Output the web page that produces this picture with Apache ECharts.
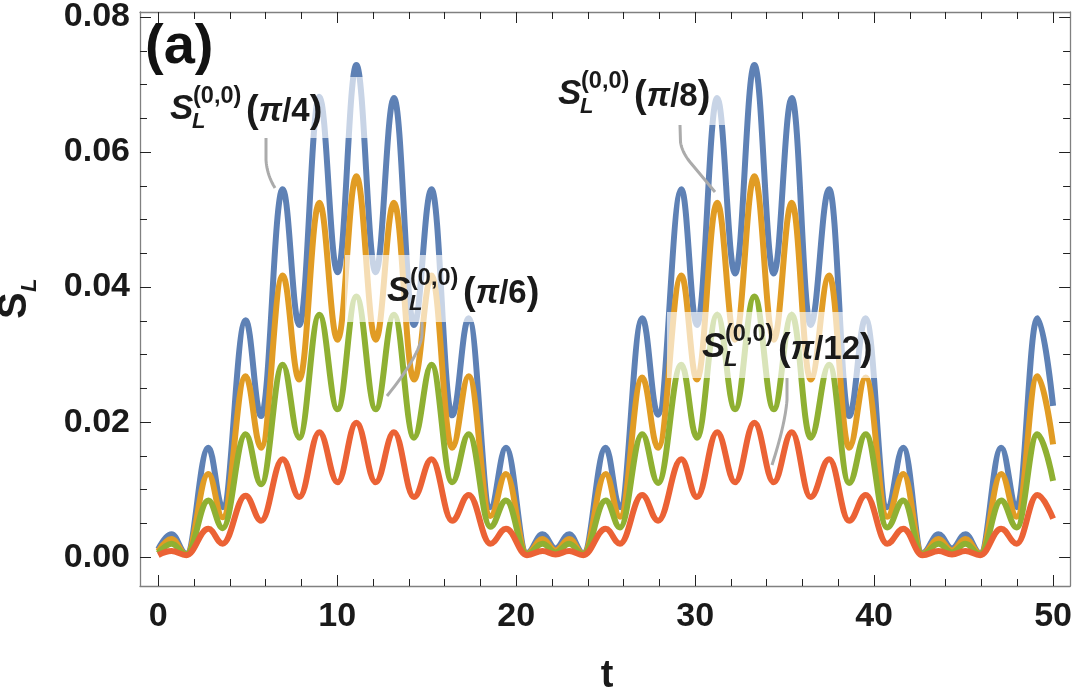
<!DOCTYPE html>
<html><head><meta charset="utf-8">
<script src="https://cdn.jsdelivr.net/npm/echarts@6/dist/echarts.min.js"></script>
<style>html,body{margin:0;padding:0;background:#fff}#c{width:1075px;height:692px}</style>
</head><body><div id="c"></div>
<script>
// extrema (peaks / troughs)
const tKnots = [0, 0.74, 1.57, 2.8, 3.6, 4.88, 5.75, 6.95, 7.88, 9.0, 10.02, 11.07, 12.15, 13.17, 14.29, 15.27, 16.42, 17.35, 18.56, 19.43, 20.6, 21.47, 22.2, 22.96, 23.75, 25.0, 25.8, 27.04, 27.93, 29.23, 30.1, 31.23, 32.23, 33.31, 34.39, 35.4, 36.45, 37.49, 38.6, 39.53, 40.73, 41.63, 42.7, 43.6, 44.35, 45.1, 45.93, 47.1, 47.97, 49.12, 50];
const sBlue = [0.0012, 0.0034, 0.0005, 0.0162, 0.0074, 0.0351, 0.0209, 0.0545, 0.0344, 0.0682, 0.0422, 0.0729, 0.0422, 0.0680, 0.0344, 0.0545, 0.0210, 0.0354, 0.0074, 0.0162, 0.0006, 0.0034, 0.0013, 0.0034, 0.0006, 0.0162, 0.0074, 0.0354, 0.0211, 0.0545, 0.0344, 0.0680, 0.0420, 0.0729, 0.0420, 0.0680, 0.0344, 0.0545, 0.0209, 0.0354, 0.0074, 0.0162, 0.0006, 0.0034, 0.0013, 0.0034, 0.0006, 0.0162, 0.0074, 0.0354, 0.0224];
const sOrange = [0.0009, 0.0027, 0.0004, 0.0123, 0.0059, 0.0268, 0.0162, 0.0417, 0.0263, 0.0525, 0.0322, 0.0564, 0.0322, 0.0525, 0.0263, 0.0417, 0.0162, 0.0268, 0.0061, 0.0123, 0.0005, 0.0027, 0.0010, 0.0027, 0.0005, 0.0123, 0.0060, 0.0266, 0.0162, 0.0417, 0.0263, 0.0525, 0.0322, 0.0564, 0.0322, 0.0525, 0.0263, 0.0417, 0.0162, 0.0266, 0.0060, 0.0123, 0.0005, 0.0027, 0.0010, 0.0027, 0.0005, 0.0123, 0.0060, 0.0268, 0.0167];
const sGreen = [0.0006, 0.0020, 0.0004, 0.0084, 0.0043, 0.0182, 0.0108, 0.0285, 0.0177, 0.0359, 0.0219, 0.0386, 0.0219, 0.0359, 0.0177, 0.0285, 0.0111, 0.0182, 0.0045, 0.0084, 0.0004, 0.0020, 0.0007, 0.0020, 0.0004, 0.0084, 0.0044, 0.0182, 0.0110, 0.0285, 0.0177, 0.0359, 0.0219, 0.0386, 0.0219, 0.0359, 0.0177, 0.0285, 0.0110, 0.0182, 0.0044, 0.0084, 0.0004, 0.0020, 0.0007, 0.0020, 0.0004, 0.0084, 0.0044, 0.0182, 0.0113];
const sRed = [0.0003, 0.0009, 0.0003, 0.0042, 0.0020, 0.0091, 0.0054, 0.0145, 0.0089, 0.0185, 0.0111, 0.0199, 0.0111, 0.0185, 0.0089, 0.0145, 0.0054, 0.0092, 0.0020, 0.0042, 0.0003, 0.0009, 0.0004, 0.0009, 0.0003, 0.0042, 0.0020, 0.0092, 0.0054, 0.0145, 0.0089, 0.0185, 0.0111, 0.0199, 0.0111, 0.0185, 0.0089, 0.0145, 0.0054, 0.0092, 0.0020, 0.0042, 0.0003, 0.0009, 0.0004, 0.0009, 0.0003, 0.0042, 0.0020, 0.0092, 0.0057];
const seriesNames = ['π/4', 'π/8', 'π/6', 'π/12'];
const xMajor = [0, 10, 20, 30, 40, 50];
const xMinor = [2, 4, 6, 8, 12, 14, 16, 18, 22, 24, 26, 28, 32, 34, 36, 38, 42, 44, 46, 48];
const yMajor = [0, 0.02, 0.04, 0.06, 0.08];
const yMinor = [0.005, 0.01, 0.015, 0.025, 0.03, 0.035, 0.045, 0.05, 0.055, 0.065, 0.07, 0.075];

const FF = '"Liberation Sans", Arial, sans-serif';
const colors = ['#5E81B5', '#E19C24', '#8FB032', '#EB6235'];
const X_MIN = -1.02, X_MAX = 50.95, Y_MIN = -0.00427, Y_MAX = 0.08074;

function pairs(v) { return tKnots.map((t, i) => [t, v[i]]); }

function xAx(pos, ticks, len, labels, showLine) {
  return {
    type: 'value', position: pos, min: X_MIN, max: X_MAX,
    axisLine: { show: showLine, onZero: false, lineStyle: { color: '#808080', width: 1.3 } },
    axisTick: { show: true, inside: true, length: len, customValues: ticks, lineStyle: { color: '#222', width: 1 } },
    axisLabel: labels ? { show: true, customValues: ticks, margin: 14, color: '#1a1a1a', fontSize: 34, fontWeight: 'bold', fontFamily: FF } : { show: false },
    splitLine: { show: false }
  };
}
function yAx(pos, ticks, len, labels, showLine) {
  return {
    type: 'value', position: pos, min: Y_MIN, max: Y_MAX,
    axisLine: { show: showLine, onZero: false, lineStyle: { color: '#808080', width: 1.3 } },
    axisTick: { show: true, inside: true, length: len, customValues: ticks, lineStyle: { color: '#222', width: 1 } },
    axisLabel: labels ? { show: true, customValues: ticks, margin: 10, color: '#1a1a1a', fontSize: 34, fontWeight: 'bold', fontFamily: FF, formatter: v => v.toFixed(2) } : { show: false },
    splitLine: { show: false }
  };
}

function makeLabel(sx, sy, inner) {
  return [
    { type: 'text', z: 30, x: sx, y: sy, style: { text: 'S', font: 'italic bold 35px ' + FF, fill: '#1a1a1a', align: 'left', verticalAlign: 'middle' } },
    { type: 'text', z: 30, x: sx + 23, y: sy - 13, style: { text: '(0,0)', font: 'bold 23.5px ' + FF, fill: '#1a1a1a', align: 'left', verticalAlign: 'middle' } },
    { type: 'text', z: 30, x: sx + 22, y: sy + 12, style: { text: 'L', font: 'italic bold 22px ' + FF, fill: '#1a1a1a', align: 'left', verticalAlign: 'middle' } },
    { type: 'text', z: 30, x: sx + 76, y: sy + 2, style: {
      text: '{p|(}{g|π}{n|/' + inner + '}{p|)}', align: 'left', verticalAlign: 'middle', fill: '#1a1a1a',
      rich: {
        p: { font: 'bold 38px ' + FF, verticalAlign: 'middle', fill: '#1a1a1a' },
        g: { font: 'italic bold 33px ' + FF, verticalAlign: 'middle', fill: '#1a1a1a' },
        n: { font: 'bold 33px ' + FF, verticalAlign: 'middle', fill: '#1a1a1a' }
      } } }
  ];
}
function box(x, y, w, h) {
  return { type: 'rect', z: 20, shape: { x: x, y: y, width: w, height: h }, style: { fill: 'rgba(255,255,255,0.66)' } };
}
// leader: straight start segment then quadratic bend, sampled into a polyline
function leader(p0, p1, c, p2, p3) {
  const pts = [p0, p1];
  for (let k = 1; k <= 16; k++) {
    const s = k / 16, a = (1 - s) * (1 - s), b = 2 * s * (1 - s), d = s * s;
    pts.push([a * p1[0] + b * c[0] + d * p2[0], a * p1[1] + b * c[1] + d * p2[1]]);
  }
  if (p3) pts.push(p3);
  return { type: 'polyline', z: 25, shape: { points: pts }, style: { fill: null, stroke: '#ababab', lineWidth: 3 } };
}

const chart = echarts.init(document.getElementById('c'), null, { renderer: 'canvas' });
const option = {
  animation: false,
  backgroundColor: '#fff',
  grid: { left: 140, right: 2, top: 8, bottom: 106 },
  xAxis: [
    xAx('bottom', xMajor, 11, true, true),
    xAx('bottom', xMinor, 7, false, false),
    xAx('top', xMajor, 11, false, true),
    xAx('top', xMinor, 7, false, false)
  ],
  yAxis: [
    yAx('left', yMajor, 11, true, true),
    yAx('left', yMinor, 7, false, false),
    yAx('right', yMajor, 11, false, true),
    yAx('right', yMinor, 7, false, false)
  ],
  series: [sBlue, sOrange, sGreen, sRed].map((v, i) => ({
    type: 'line', name: seriesNames[i], data: pairs(v), xAxisIndex: 0, yAxisIndex: 0,
    showSymbol: false, symbol: 'none', smooth: 0.4, smoothMonotone: 'x',
    lineStyle: { color: colors[i], width: 6 }, z: 2 + i
  })),
  graphic: [
    box(157, 77, 218, 61),
    box(625, 63, 110, 62),
    box(345, 255, 153, 67),
    box(667, 312, 213, 66),
    leader([266, 138], [266, 160], [267, 175], [275, 188]),
    leader([680, 125], [680.5, 142], [682, 152], [690, 162], [715, 192]),
    leader([422, 322], [422, 335], [420, 355], [387, 396]),
    leader([787, 378], [787, 400], [785, 425], [772, 465]),
    ...makeLabel(170, 109.5, '4'),
    ...makeLabel(558, 94.5, '8'),
    ...makeLabel(387, 291.5, '6'),
    ...makeLabel(702, 347.5, '12'),
    { type: 'text', z: 30, x: 145, y: 48, style: { text: '(a)', font: 'bold 56px ' + FF, fill: '#111', align: 'left', verticalAlign: 'middle' } },
    { type: 'text', z: 30, x: 607, y: 677, style: { text: 't', font: 'bold 38px ' + FF, fill: '#1a1a1a', align: 'center', verticalAlign: 'middle' } },
    { type: 'group', x: 0, y: 319, rotation: Math.PI / 2, z: 30, children: [
      { type: 'text', z: 30, x: 0, y: 15, style: { text: 'S', font: 'bold 40px ' + FF, fill: '#1a1a1a', align: 'left', verticalAlign: 'middle' } },
      { type: 'text', z: 30, x: 27, y: 30, style: { text: 'L', font: 'italic bold 22px ' + FF, fill: '#1a1a1a', align: 'left', verticalAlign: 'middle' } }
    ] }
  ]
};
chart.setOption(option);
</script>
</body></html>
